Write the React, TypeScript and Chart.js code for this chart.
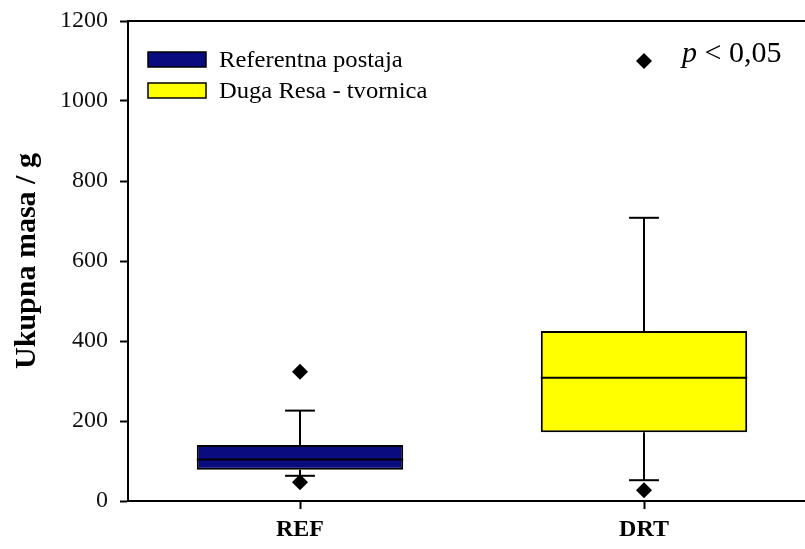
import React, { useEffect, useRef } from "react";
import { Chart, registerables } from "chart.js";

Chart.register(...registerables);

const categories = ["REF", "DRT"];
const q1 = [78, 172];
const median = [104, 308];
const q3 = [140, 425];
const whiskerLow = [63, 52];
const whiskerHigh = [226, 708];
const outliers = [
  [323, 47],
  [1100, 27],
];
const boxColors = ["#0b0b80", "#ffff00"];
const legendLabels = ["Referentna postaja", "Duga Resa - tvornica"];
const yTicks = [0, 200, 400, 600, 800, 1000, 1200];
const yTitle = "Ukupna masa / g";
const annotationP = "p";
const annotationRest = " < 0,05";
const annotationValue = 1100;

const SERIF = '"Liberation Serif", "Times New Roman", serif';

export default function App() {
  const ref = useRef<HTMLCanvasElement | null>(null);

  useEffect(() => {
    const canvas = ref.current;
    if (!canvas) return;

    const boxPlugin = {
      id: "boxPlugin",
      beforeDatasetsDraw(chart: any) {
        const ctx = chart.ctx;
        const xs = chart.scales.x;
        const ys = chart.scales.y;
        const meta = chart.getDatasetMeta(0);
        ctx.save();
        ctx.strokeStyle = "#000";
        ctx.lineWidth = 2;
        categories.forEach((_, i) => {
          const x = xs.getPixelForValue(i);
          const bw = meta.data[i] ? meta.data[i].width : 200;
          const cap = bw * 0.145;
          const segs = [
            [q3[i], whiskerHigh[i]],
            [q1[i], whiskerLow[i]],
          ];
          segs.forEach(([a, b]) => {
            const ya = ys.getPixelForValue(a);
            const yb = ys.getPixelForValue(b);
            ctx.beginPath();
            ctx.moveTo(x, ya);
            ctx.lineTo(x, yb);
            ctx.stroke();
            ctx.beginPath();
            ctx.moveTo(x - cap / 2, yb);
            ctx.lineTo(x + cap / 2, yb);
            ctx.stroke();
          });
        });
        ctx.restore();
      },
      afterDatasetsDraw(chart: any) {
        const ctx = chart.ctx;
        const xs = chart.scales.x;
        const ys = chart.scales.y;
        const meta = chart.getDatasetMeta(0);
        ctx.save();
        ctx.strokeStyle = "#000";
        ctx.lineWidth = 2;
        categories.forEach((_, i) => {
          const x = xs.getPixelForValue(i);
          const bw = meta.data[i] ? meta.data[i].width : 200;
          const y = ys.getPixelForValue(median[i]);
          ctx.beginPath();
          ctx.moveTo(x - bw / 2, y);
          ctx.lineTo(x + bw / 2, y);
          ctx.stroke();
        });
        ctx.restore();
      },
      afterDraw(chart: any) {
        const ctx = chart.ctx;
        const area = chart.chartArea;
        const ys = chart.scales.y;
        ctx.save();
        ctx.strokeStyle = "#000";
        ctx.lineWidth = 2;
        ctx.beginPath();
        ctx.moveTo(area.left, area.top);
        ctx.lineTo(area.right, area.top);
        ctx.stroke();

        const lx = area.left + 20;
        legendLabels.forEach((label, i) => {
          const ry = area.top + 31 + i * 31;
          ctx.fillStyle = boxColors[i];
          ctx.fillRect(lx, ry, 58, 15);
          ctx.lineWidth = 1.5;
          ctx.strokeStyle = "#000";
          ctx.strokeRect(lx, ry, 58, 15);
          ctx.save();
          ctx.translate(lx + 71, ry + 15);
          ctx.scale(1.2, 1.08);
          ctx.fillStyle = "#000";
          ctx.font = `20.5px ${SERIF}`;
          ctx.textBaseline = "alphabetic";
          ctx.textAlign = "left";
          ctx.fillText(label, 0, 0);
          ctx.restore();
        });

        const ay = ys.getPixelForValue(annotationValue) + 1;
        const ax = chart.scales.x.getPixelForValue(1) + 38;
        ctx.fillStyle = "#000";
        ctx.textBaseline = "alphabetic";
        ctx.textAlign = "left";
        ctx.font = `italic 30px ${SERIF}`;
        ctx.fillText(annotationP, ax, ay);
        const pw = ctx.measureText(annotationP).width;
        ctx.font = `30px ${SERIF}`;
        ctx.fillText(annotationRest, ax + pw, ay);
        ctx.restore();
      },
    };

    const scatterData: any[] = [];
    outliers.forEach((vals, i) => {
      vals.forEach((v) => scatterData.push({ x: categories[i], y: v }));
    });

    const chart = new Chart(canvas, {
      type: "bar",
      data: {
        labels: categories,
        datasets: [
          {
            type: "bar",
            label: "box",
            data: categories.map((_, i) => [q1[i], q3[i]]) as any,
            backgroundColor: boxColors,
            borderColor: "#000",
            borderWidth: 2,
            borderSkipped: false,
            barPercentage: 0.6,
            categoryPercentage: 1.0,
            order: 1,
          } as any,
          {
            type: "scatter",
            label: "outliers",
            data: scatterData,
            pointStyle: "rectRot",
            pointRadius: 8,
            backgroundColor: "#000",
            borderColor: "#000",
            borderWidth: 0,
            order: 0,
          } as any,
        ],
      },
      options: {
        responsive: false,
        animation: false,
        layout: { autoPadding: false, padding: { top: 21, right: 14, left: 0, bottom: 0 } },
        plugins: {
          legend: { display: false },
          tooltip: { enabled: false },
        },
        events: [],
        scales: {
          x: {
            type: "category",
            offset: true,
            grid: {
              display: true,
              offset: false,
              drawOnChartArea: false,
              drawTicks: true,
              tickLength: 8,
              tickWidth: 2,
              tickColor: "#000",
            },
            border: { display: true, color: "#000", width: 2 },
            ticks: {
              color: "#000",
              padding: 6,
              font: { family: SERIF, size: 24, weight: "bold" },
            },
            afterFit: (s: any) => {
              s.height = 48;
              s.paddingLeft = 0;
              s.paddingRight = 0;
            },
          },
          y: {
            type: "linear",
            min: 0,
            max: 1200,
            afterBuildTicks: (s: any) => {
              s.ticks = yTicks.map((v) => ({ value: v }));
            },
            grid: {
              display: true,
              drawOnChartArea: false,
              drawTicks: true,
              tickLength: 8,
              tickWidth: 2,
              tickColor: "#000",
            },
            border: { display: true, color: "#000", width: 2 },
            ticks: {
              color: "#111",
              padding: 12,
              font: { family: SERIF, size: 24 },
              callback: (v: any) => String(v),
            },
            title: {
              display: true,
              text: yTitle,
              color: "#000",
              padding: { top: 9, bottom: 0 },
              font: { family: SERIF, size: 30, weight: "bold" },
            },
            afterFit: (s: any) => {
              s.width = 128;
              s.paddingTop = 0;
              s.paddingBottom = 0;
            },
          },
        },
      },
      plugins: [boxPlugin],
    });

    return () => chart.destroy();
  }, []);

  return (
    <div
      style={{
        position: "absolute",
        left: 0,
        top: 0,
        width: 805,
        height: 549,
        overflow: "hidden",
        background: "#fff",
      }}
    >
      <canvas ref={ref} width={830} height={549} style={{ display: "block" }} />
    </div>
  );
}
